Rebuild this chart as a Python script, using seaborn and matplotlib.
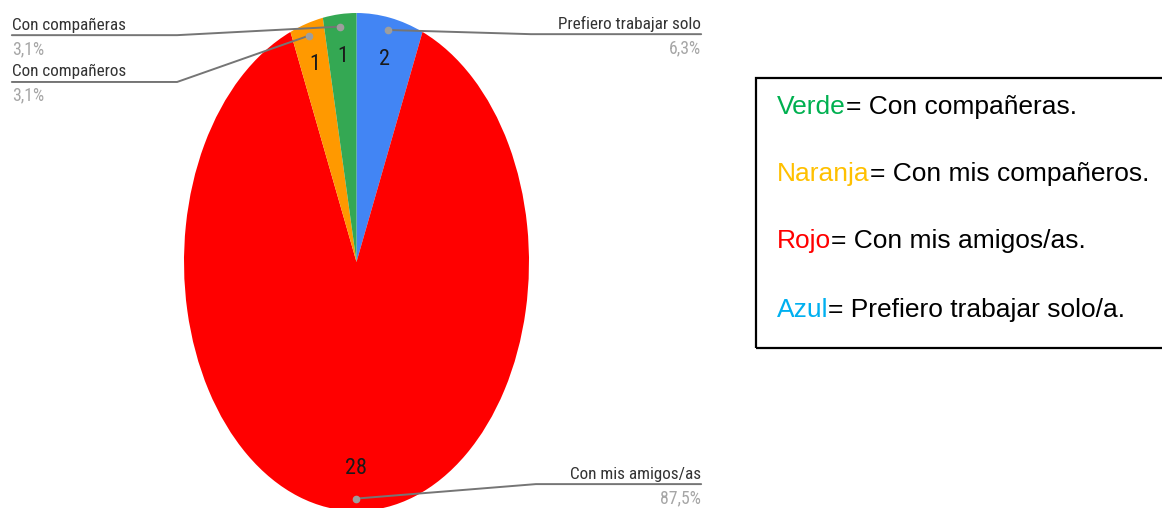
import numpy as np
import pandas as pd
import seaborn as sns
import matplotlib.pyplot as plt
from matplotlib import font_manager
from matplotlib.patches import Rectangle

# slices, clockwise from 12 o'clock
categories = ["Prefiero trabajar solo", "Con mis amigos/as", "Con compañeros", "Con compañeras"]
counts = [2, 28, 1, 1]
pct_labels = ["6,3%", "87,5%", "3,1%", "3,1%"]
slice_colors = ["#4285F4", "#FF0000", "#FF9900", "#34A853"]

# text box on the right
legend_words = ["Verde", "Naranja", "Rojo", "Azul"]
legend_rest = ["= Con compañeras.", "= Con mis compañeros.", "= Con mis amigos/as.", "= Prefiero trabajar solo/a."]
legend_colors = ["#00B050", "#FFC000", "#FF0000", "#00B0F0"]

df = pd.DataFrame({"cat": categories, "n": counts, "pct": pct_labels})

sns.set_style("white")
# look for a narrow face for the pie labels
cond = [f for f in font_manager.fontManager.ttflist
        if f.stretch in ("condensed", "semi-condensed", "extra-condensed", "ultra-condensed")
        or "Narrow" in f.name or "Condensed" in f.name]
cond_names = sorted({f.name for f in cond})
narrow, nstretch = "Roboto", "normal"
for pref in ["Roboto Condensed", "Liberation Sans Narrow", "Open Sans Condensed", "DejaVu Sans Condensed"]:
    if pref in cond_names:
        narrow = pref
        break
else:
    if "DejaVu Sans" in cond_names:
        narrow, nstretch = "DejaVu Sans", "condensed"
plt.rcParams["font.family"] = ["Liberation Sans", "DejaVu Sans"]
lab_size = 12 if narrow == "Roboto" else 12.3

W, H = 1162, 508
fig = plt.figure(figsize=(W / 100, H / 100), dpi=100)

# pie axes, stretched so the pie becomes an ellipse
cx, cy, rx, ry = 356.5, 262, 172.5, 249
ax = fig.add_axes([(cx - rx) / W, (H - cy - ry) / H, 2 * rx / W, 2 * ry / H])
palette = sns.color_palette(slice_colors)
wedges, _ = ax.pie(df["n"], colors=palette, startangle=90, counterclock=False,
                   radius=1, wedgeprops=dict(linewidth=0))
ax.set_aspect("auto")
ax.set_xlim(-1, 1)
ax.set_ylim(-1, 1)
ax.axis("off")

# label layout: side, y level of the horizontal leader, elbow x
label_side = ["right", "right", "left", "left"]
label_y = [0.915, -0.892, 0.723, 0.911]
elbow_x = [1.01, 1.04, -1.04, -1.04]
end_x = 1.998

for w, (_, row), side, ly, ex in zip(wedges, df.iterrows(), label_side, label_y, elbow_x):
    mid = np.deg2rad((w.theta1 + w.theta2) / 2)
    # count inside slice
    ax.text(0.83 * np.cos(mid), 0.83 * np.sin(mid), str(row["n"]), ha="center", va="center",
            fontsize=16, family=narrow, fontstretch=nstretch, color="#1a1a1a")
    dx, dy = 0.95 * np.cos(mid), 0.95 * np.sin(mid)
    xe = end_x if side == "right" else -end_x
    ax.plot([dx, ex, xe], [dy, ly, ly], color="#757575", lw=1.4, clip_on=False, zorder=3)
    ax.plot(dx, dy, "o", ms=4.5, color="#9e9e9e", clip_on=False, zorder=4)
    ha = "right" if side == "right" else "left"
    ax.annotate(row["cat"], xy=(xe, ly), xytext=(0, 4), textcoords="offset points",
                ha=ha, va="baseline", fontsize=lab_size, family=narrow, fontstretch=nstretch,
                color="#333333", annotation_clip=False)
    ax.annotate(row["pct"], xy=(xe, ly), xytext=(0, -3.5), textcoords="offset points",
                ha=ha, va="top", fontsize=lab_size + 0.5, family=narrow, fontstretch=nstretch,
                color="#a6a6a6", annotation_clip=False)

# framed text box
fig.add_artist(Rectangle((756 / W, 1 - 348 / H), 0.5, 270 / H, transform=fig.transFigure,
                         fill=False, edgecolor="black", lw=1.6, clip_on=False))
base_y = [114, 181, 248, 317]
for word, rest, col, by in zip(legend_words, legend_rest, legend_colors, base_y):
    t = fig.text(777 / W, 1 - by / H, word, color=col, fontsize=19, va="baseline")
    fig.add_artist(plt.Annotation(rest, xy=(1, 0), xycoords=t, ha="left", va="bottom",
                                  fontsize=19, color="black"))

fig.savefig("out.png", dpi=100)
